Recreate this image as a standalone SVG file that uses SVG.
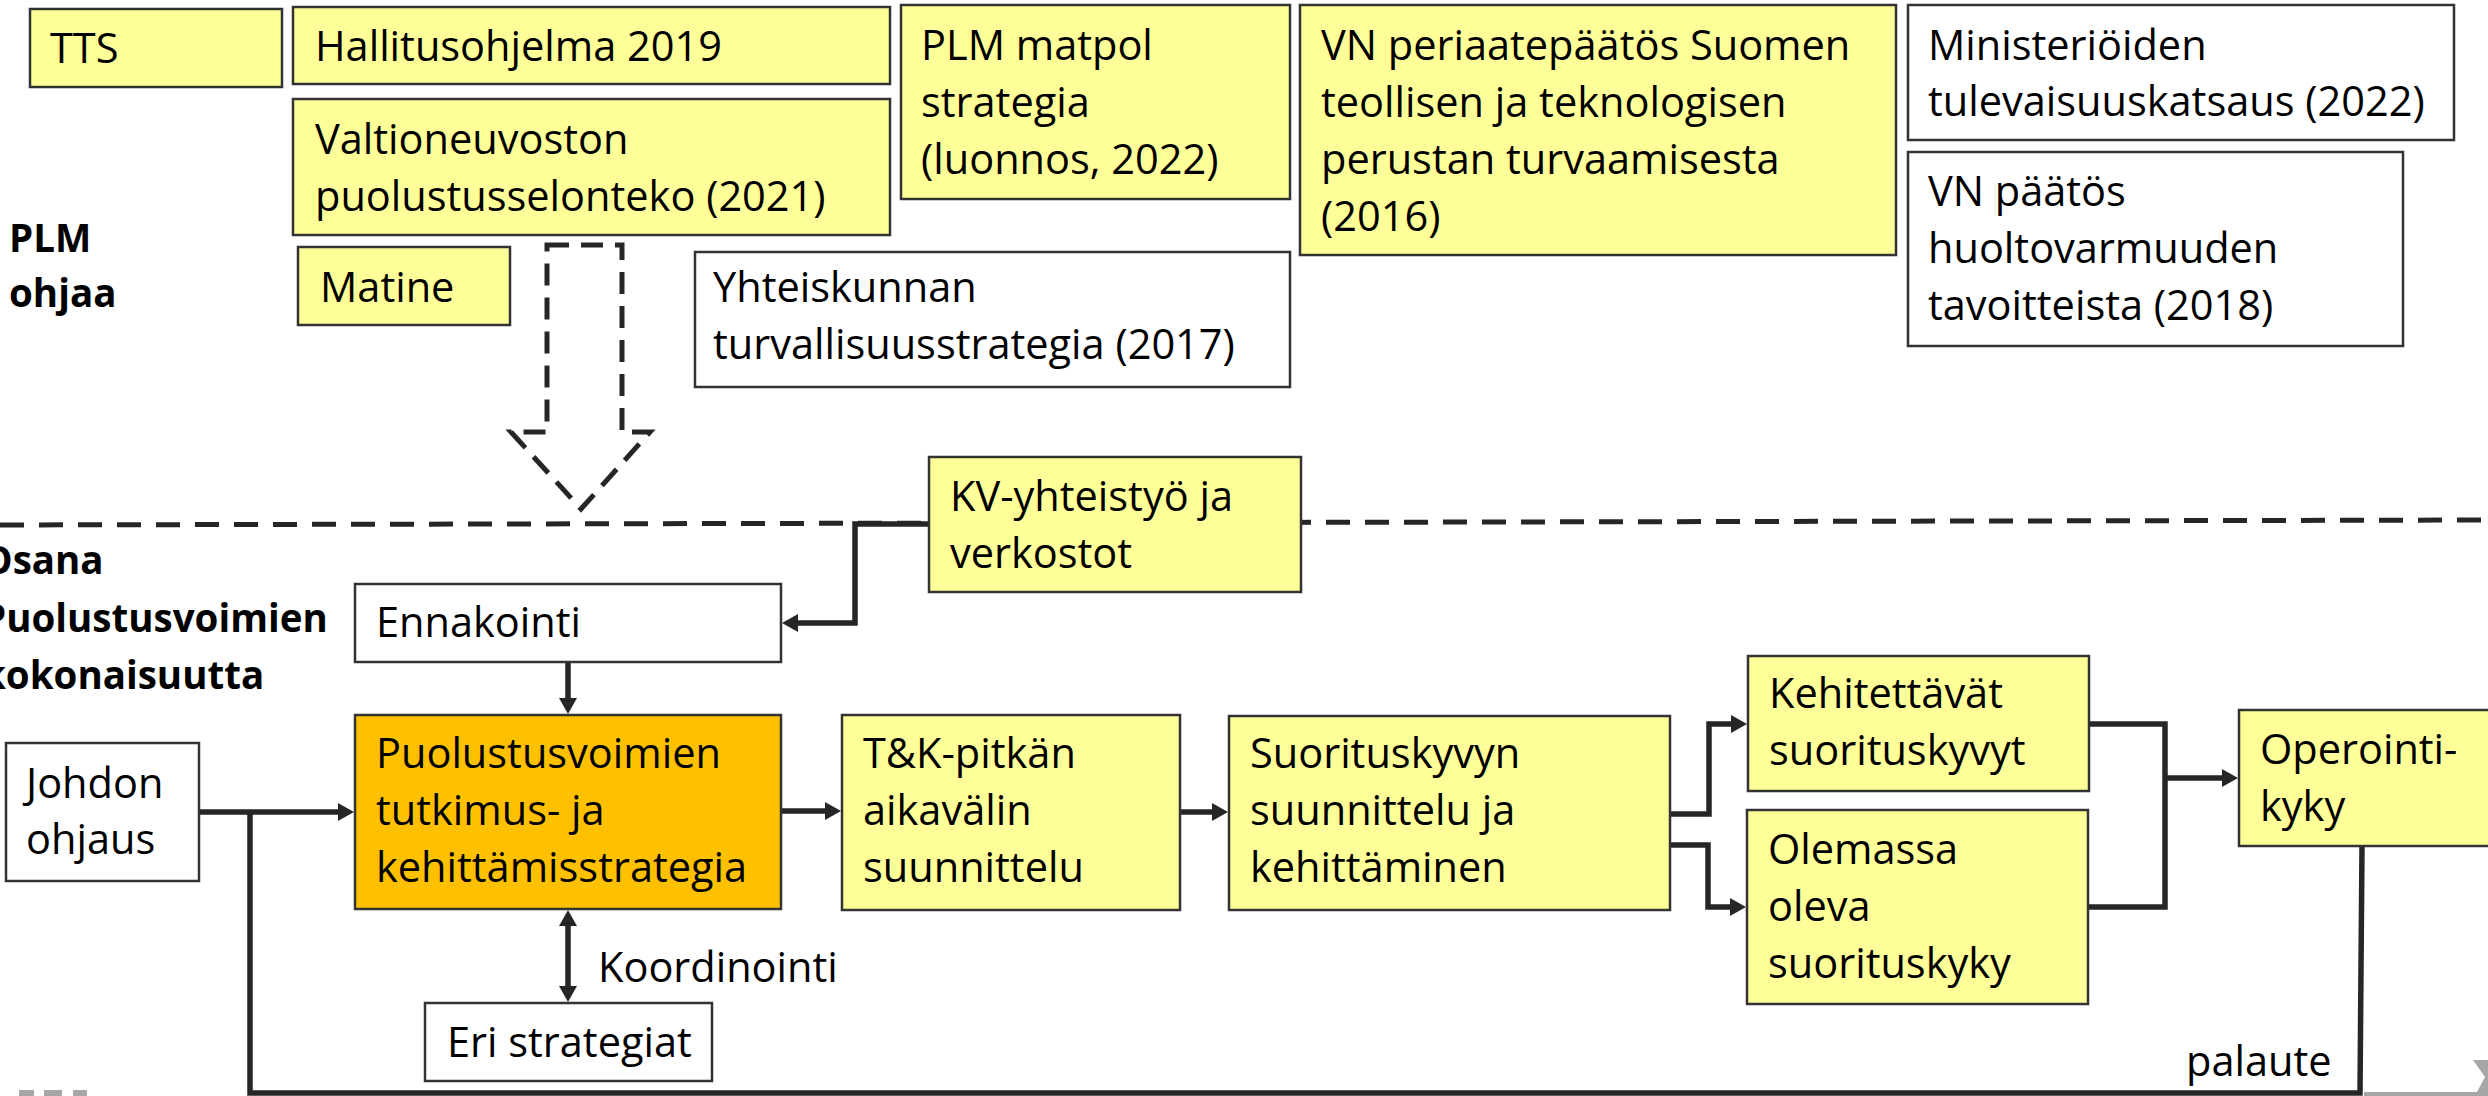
<svg xmlns="http://www.w3.org/2000/svg" width="2488" height="1096" viewBox="0 0 2488 1096">
<style>
.box{stroke:#333;stroke-width:2.5}
.y{fill:#FFFF99}
.w{fill:#FFFFFF}
.o{fill:#FFC000}
text{font-family:"Open Sans","Noto Sans",sans-serif;font-size:41.5px;fill:#000}
.b{font-weight:bold;font-size:38.5px}
.c{fill:none;stroke:#262626;stroke-width:5.5;stroke-linejoin:miter}
.dash{fill:none;stroke:#262626;stroke-width:5;stroke-dasharray:24 15}
</style>
<defs>
<marker id="ah" markerUnits="userSpaceOnUse" markerWidth="17" markerHeight="18" refX="1" refY="9" orient="auto-start-reverse">
<path d="M0,0 L16,9 L0,18 z" fill="#262626"/>
</marker>
</defs>
<rect width="2488" height="1096" fill="#fff"/>

<g id="separator">
<line class="dash" x1="0" y1="525" x2="2488" y2="520"/>
</g>

<g id="guide-arrow">
<polygon points="547,245 622,245 622,432 650,432 581,509 511,432 547,432" fill="none" stroke="#262626" stroke-width="5" stroke-dasharray="22 12"/>
</g>

<g id="labels">
<text class="b" x="9" y="252">PLM</text>
<text class="b" x="9" y="307">ohjaa</text>
<text class="b" x="-18" y="574">Osana</text>
<text class="b" x="-18" y="632">Puolustusvoimien</text>
<text class="b" x="-18" y="689">kokonaisuutta</text>
<text x="598" y="982">Koordinointi</text>
<text x="2186" y="1076">palaute</text>
</g>

<g id="connectors">
<path class="c" d="M929,524 H855 V623 H797" marker-end="url(#ah)"/>
<path class="c" d="M568,662 V699" marker-end="url(#ah)"/>
<path class="c" d="M199,812 H339" marker-end="url(#ah)"/>
<path class="c" d="M781,811 H826" marker-end="url(#ah)"/>
<path class="c" d="M1180,812 H1213" marker-end="url(#ah)"/>
<path class="c" d="M1670,814 H1709 V724 H1732" marker-end="url(#ah)"/>
<path class="c" d="M1670,845 H1708 V907 H1731" marker-end="url(#ah)"/>
<path class="c" d="M2089,724 H2165 V907 H2088"/>
<path class="c" d="M2165,778 H2223" marker-end="url(#ah)"/>
<path class="c" d="M568,925 V987" marker-start="url(#ah)" marker-end="url(#ah)"/>
<path class="c" d="M2362,846 L2360,1093 H250 V812" stroke-width="5"/>
</g>

<g id="tts"><rect class="box y" x="30" y="9" width="252" height="78"/><text x="50" y="63">TTS</text></g>
<g id="hallitusohjelma"><rect class="box y" x="293" y="7" width="597" height="77"/><text x="315" y="61">Hallitusohjelma 2019</text></g>
<g id="selonteko"><rect class="box y" x="293" y="99" width="597" height="136"/><text x="315" y="154">Valtioneuvoston</text><text x="315" y="211">puolustusselonteko (2021)</text></g>
<g id="matine"><rect class="box y" x="298" y="247" width="212" height="78"/><text x="320" y="302">Matine</text></g>
<g id="matpol"><rect class="box y" x="901" y="5" width="389" height="194"/><text x="921" y="60">PLM matpol</text><text x="921" y="117">strategia</text><text x="921" y="174">(luonnos, 2022)</text></g>
<g id="periaatepaatos"><rect class="box y" x="1300" y="5" width="596" height="250"/><text x="1321" y="60">VN periaatepäätös Suomen</text><text x="1321" y="117">teollisen ja teknologisen</text><text x="1321" y="174">perustan turvaamisesta</text><text x="1321" y="231">(2016)</text></g>
<g id="tulevaisuuskatsaus"><rect class="box w" x="1908" y="5" width="546" height="135"/><text x="1928" y="60">Ministeriöiden</text><text x="1928" y="116">tulevaisuuskatsaus (2022)</text></g>
<g id="huoltovarmuus"><rect class="box w" x="1908" y="152" width="495" height="194"/><text x="1928" y="206">VN päätös</text><text x="1928" y="263">huoltovarmuuden</text><text x="1928" y="320">tavoitteista (2018)</text></g>
<g id="turvallisuusstrategia"><rect class="box w" x="695" y="252" width="595" height="135"/><text x="713" y="302">Yhteiskunnan</text><text x="713" y="359">turvallisuusstrategia (2017)</text></g>
<g id="kv"><rect class="box y" x="929" y="457" width="372" height="135"/><text x="950" y="511">KV-yhteistyö ja</text><text x="950" y="568">verkostot</text></g>
<g id="ennakointi"><rect class="box w" x="355" y="584" width="426" height="78"/><text x="376" y="637">Ennakointi</text></g>
<g id="strategia"><rect class="box o" x="355" y="715" width="426" height="194"/><text x="376" y="768">Puolustusvoimien</text><text x="376" y="825">tutkimus- ja</text><text x="376" y="882">kehittämisstrategia</text></g>
<g id="johdon"><rect class="box w" x="6" y="743" width="193" height="138"/><text x="26" y="798">Johdon</text><text x="26" y="854">ohjaus</text></g>
<g id="tk"><rect class="box y" x="842" y="715" width="338" height="195"/><text x="863" y="768">T&amp;K-pitkän</text><text x="863" y="825">aikavälin</text><text x="863" y="882">suunnittelu</text></g>
<g id="suorituskyky"><rect class="box y" x="1229" y="716" width="441" height="194"/><text x="1250" y="768">Suorituskyvyn</text><text x="1250" y="825">suunnittelu ja</text><text x="1250" y="882">kehittäminen</text></g>
<g id="kehitettavat"><rect class="box y" x="1748" y="656" width="341" height="135"/><text x="1769" y="708">Kehitettävät</text><text x="1769" y="765">suorituskyvyt</text></g>
<g id="olemassa"><rect class="box y" x="1747" y="810" width="341" height="194"/><text x="1768" y="864">Olemassa</text><text x="1768" y="921">oleva</text><text x="1768" y="978">suorituskyky</text></g>
<g id="operointi"><rect class="box y" x="2239" y="710" width="270" height="136"/><text x="2260" y="764">Operointi-</text><text x="2260" y="821">kyky</text></g>
<g id="eri"><rect class="box w" x="425" y="1003" width="287" height="78"/><text x="447" y="1057">Eri strategiat</text></g>

<g id="footer" fill="#A6A6A6">
<rect x="19" y="1090" width="15" height="6"/>
<rect x="44" y="1090" width="18" height="6"/>
<rect x="73" y="1090" width="14" height="6"/>
<rect x="2364" y="1092" width="124" height="4"/>
<polygon points="2473,1060 2488,1060 2488,1092 2477,1092 2485,1077"/>
</g>
</svg>
